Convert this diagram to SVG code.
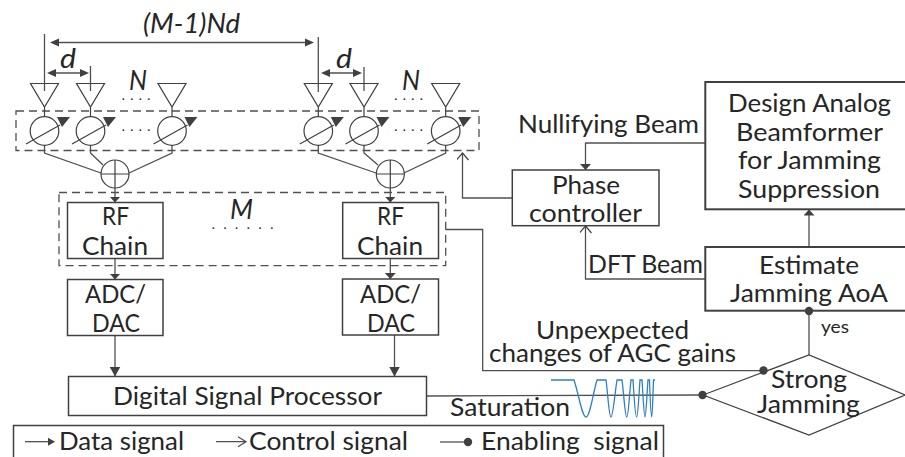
<svg xmlns="http://www.w3.org/2000/svg" width="905" height="457" viewBox="0 0 905 457">
<style>
.l{fill:none;stroke:#505050;stroke-width:1.3}
.b{fill:#fff;stroke:#404040;stroke-width:1.5}
.w{fill:#fff;stroke:#404040;stroke-width:2}
.n{fill:none;stroke:#404040;stroke-width:1.2}
.dash{fill:none;stroke:#505050;stroke-width:1.3;stroke-dasharray:8 5}
.fa{marker-end:url(#fa)}
.ff{marker-end:url(#ff)}
.oa{marker-end:url(#oa)}
text{font-family:Lato,"Liberation Sans",sans-serif;font-size:25px;fill:#262626}
.i{font-style:italic;font-size:27px}
.dots{font-size:11px;font-weight:900;fill:#303030}
</style>
<defs>
<marker id="fa" markerUnits="userSpaceOnUse" markerWidth="12" markerHeight="12" refX="10" refY="5.500" orient="auto"><path d="M0 0L10 5.500L0 11Z" fill="#404040"/></marker>
<marker id="ff" markerUnits="userSpaceOnUse" markerWidth="12" markerHeight="12" refX="6" refY="5.500" orient="auto"><path d="M0 0L6 5.500L0 11Z" fill="#404040"/></marker>
<marker id="oa" markerUnits="userSpaceOnUse" markerWidth="14" markerHeight="14" refX="8" refY="6" orient="auto"><path d="M1 0L8 6L1 12" fill="none" stroke="#404040" stroke-width="1.200"/></marker>
<g id="ant"><path class="n" d="M-13.500 83.500H14.500L0.500 107ZM0.500 107V116.500"/></g>
<g id="ps"><circle class="n" cx="0.500" cy="131" r="14.300"/><path class="n" d="M-18 144L16 125"/><path d="M13 117H26L18 127Z" fill="#404040"/></g>
<circle id="dot" r="4.200" fill="#404040"/>
</defs>

<g id="beam-box-1"><rect class="dash" x="16" y="111" width="463" height="39.500"/></g>
<g id="rf-group"><rect class="dash" x="59" y="192.500" width="386.700" height="73.200"/></g>

<g id="connectors">
<path class="l" d="M44.500 34V91M318.300 37V92M90.500 66V91M364 67V91"/>
<path class="l" d="M55 42.500H309"/>
<path d="M50 42.500L59 38.500V46.500ZM314 42.500L305 38.500V46.500Z" fill="#404040"/>
<path class="l" d="M50 73H86M324 73H359"/>
<path d="M47 73L56 69V77ZM89 73L80 69V77ZM321 73L330 69V77ZM362 73L353 69V77Z" fill="#404040"/>
<path class="l" d="M44.500 145.500V153L101 173M90.500 145.500V153L103 165M172 145.500V153L129 173"/>
<path class="l" d="M318.300 145.500V153L376 173M364 145.500V153L378 165M445.700 145.500V153L404 173"/>
<path class="l ff" d="M115 188V202.500"/>
<path class="l ff" d="M390.300 188V202.500"/>
<path class="l ff" d="M115 258.500V279.500"/>
<path class="l ff" d="M390.300 258.500V279"/>
<path class="l fa" d="M115 336V376.500"/>
<path class="l fa" d="M394.500 335V376.500"/>
<path class="l" d="M445.700 229.500H482.700V370.700H763.500"/>
<path class="l" d="M426.500 396L702 395"/>
<path class="l oa" d="M512.300 198H462.500V153"/>
<path class="l ff" d="M705 143H585.500V170"/>
<path class="l oa" d="M705 279H585.500V226"/>
<path class="l ff" d="M809 247V209.500"/>
<path class="l" d="M809 311V355"/>
<use href="#dot" x="763.500" y="370.500"/>
<use href="#dot" x="702.500" y="395"/>
</g>

<g id="top-label">
<text class="i" x="143" y="33" textLength="97" lengthAdjust="spacingAndGlyphs">(M-1)Nd</text>
<text class="i" x="60" y="68" textLength="16" lengthAdjust="spacingAndGlyphs">d</text>
<text class="i" x="336" y="68" textLength="16" lengthAdjust="spacingAndGlyphs">d</text>
<text class="i" x="129" y="90" textLength="18" lengthAdjust="spacingAndGlyphs">N</text>
<text class="i" x="402" y="90" textLength="18" lengthAdjust="spacingAndGlyphs">N</text>
<text class="dots" x="122" y="100" textLength="28">....</text>
<text class="dots" x="394.500" y="100" textLength="28">....</text>
<text class="dots" x="122" y="130.500" textLength="28">....</text>
<text class="dots" x="394.500" y="130.500" textLength="28">....</text>
<text class="i" x="230" y="219" textLength="23" lengthAdjust="spacingAndGlyphs">M</text>
<text class="dots" x="212" y="228.500" textLength="61">......</text>
</g>

<g id="antenna-1"><use href="#ant" x="44"/><use href="#ps" x="44"/></g>
<g id="antenna-2"><use href="#ant" x="90"/><use href="#ps" x="90"/></g>
<g id="antenna-3"><use href="#ant" x="171.500"/><use href="#ps" x="171.500"/></g>
<g id="antenna-4"><use href="#ant" x="317.800"/><use href="#ps" x="317.800"/></g>
<g id="antenna-5"><use href="#ant" x="363.500"/><use href="#ps" x="363.500"/></g>
<g id="antenna-6"><use href="#ant" x="445.200"/><use href="#ps" x="445.200"/></g>

<g id="summer-1"><circle class="n" cx="115" cy="174" r="14"/><path class="n" d="M101 174H129M115 160V188"/></g>
<g id="summer-2"><circle class="n" cx="390.300" cy="174" r="14"/><path class="n" d="M376.300 174H404.300M390.300 160V188"/></g>

<g id="rf-1"><rect class="b" x="67.500" y="202.500" width="95.500" height="56"/>
<text x="102" y="225" textLength="27" lengthAdjust="spacingAndGlyphs">RF</text>
<text x="82" y="254.500" textLength="66" lengthAdjust="spacingAndGlyphs">Chain</text></g>
<g id="rf-2"><rect class="b" x="342.700" y="202.500" width="95.800" height="56"/>
<text x="377" y="225" textLength="27" lengthAdjust="spacingAndGlyphs">RF</text>
<text x="357" y="254.500" textLength="66" lengthAdjust="spacingAndGlyphs">Chain</text></g>
<g id="adc-1"><rect class="b" x="67.500" y="279.500" width="95.500" height="56"/>
<text x="85" y="303" textLength="61" lengthAdjust="spacingAndGlyphs">ADC/</text>
<text x="92" y="332" textLength="48" lengthAdjust="spacingAndGlyphs">DAC</text></g>
<g id="adc-2"><rect class="b" x="342.500" y="279" width="96" height="56"/>
<text x="360" y="303" textLength="61" lengthAdjust="spacingAndGlyphs">ADC/</text>
<text x="367" y="332" textLength="48" lengthAdjust="spacingAndGlyphs">DAC</text></g>
<g id="dsp"><rect class="b" x="68.500" y="376.500" width="358" height="39"/>
<text x="113" y="405" textLength="269" lengthAdjust="spacingAndGlyphs">Digital Signal Processor</text></g>

<g id="phase-controller"><rect class="b" x="512.300" y="170" width="146.700" height="55.700"/>
<text x="552" y="194" textLength="68" lengthAdjust="spacingAndGlyphs">Phase</text>
<text x="529" y="222" textLength="113" lengthAdjust="spacingAndGlyphs">controller</text></g>
<g id="design"><rect class="w" x="705.300" y="82" width="204" height="127.300"/>
<text x="728" y="112" textLength="163" lengthAdjust="spacingAndGlyphs">Design Analog</text>
<text x="736" y="141" textLength="147" lengthAdjust="spacingAndGlyphs">Beamformer</text>
<text x="738" y="169" textLength="143" lengthAdjust="spacingAndGlyphs">for Jamming</text>
<text x="738" y="198" textLength="142" lengthAdjust="spacingAndGlyphs">Suppression</text></g>
<g id="estimate"><rect class="w" x="705.300" y="247" width="204" height="63.700"/>
<text x="759" y="274" textLength="100" lengthAdjust="spacingAndGlyphs">Estimate</text>
<text x="730" y="302" textLength="158" lengthAdjust="spacingAndGlyphs">Jamming AoA</text></g>
<use href="#dot" x="809" y="311"/>
<g id="strong-jamming"><path class="n" d="M703 395L809 355L905 395L809 435Z"/>
<text x="771" y="388" textLength="76" lengthAdjust="spacingAndGlyphs">Strong</text>
<text x="757" y="413" textLength="103" lengthAdjust="spacingAndGlyphs">Jamming</text></g>

<g id="labels">
<text x="518" y="133" textLength="181" lengthAdjust="spacingAndGlyphs">Nullifying Beam</text>
<text x="588" y="273" textLength="115" lengthAdjust="spacingAndGlyphs">DFT Beam</text>
<text x="536" y="339" textLength="153" lengthAdjust="spacingAndGlyphs">Unpexpected</text>
<text x="489" y="362" textLength="247" lengthAdjust="spacingAndGlyphs">changes of AGC gains</text>
<text x="450" y="416" textLength="120" lengthAdjust="spacingAndGlyphs">Saturation</text>
<text x="821" y="333" style="font-size:17px" textLength="28" lengthAdjust="spacingAndGlyphs">yes</text>
</g>

<g id="waveform"><path fill="none" stroke="#2e7fc4" stroke-width="1.300" d="M551 380H574C579 395 582 417 586 417C590 417 593 393 597 380H606C608 395 609 417 611 417C613 417 615 392 617 380H622C624 395 625 417 626.700 417C628.500 417 629.500 392 631 380H633C634 395 635 417 636.700 417C638 417 639 392 640 380H642C643 395 644 417 645 417C646 417 647 392 648 380H649.500C650 395 651 417 651.700 417C652.500 417 653 392 653.500 380H655"/></g>

<g id="legend">
<path fill="none" stroke="#404040" stroke-width="1.500" d="M13.500 457V425.500H663.500V457"/>
<path class="l" d="M25 441.700H50"/><path d="M48 437.700L55 441.700L48 445.700Z" fill="#404040"/>
<path class="l" d="M216 441.700H245M238 436.700L246 441.700L238 446.700"/>
<path class="l" d="M440 442H465"/><use href="#dot" x="468" y="442"/>
<text x="59" y="450" textLength="125" lengthAdjust="spacingAndGlyphs">Data signal</text>
<text x="249" y="450" textLength="159" lengthAdjust="spacingAndGlyphs">Control signal</text>
<text x="481" y="450" textLength="178" lengthAdjust="spacingAndGlyphs" xml:space="preserve">Enabling  signal</text>
</g>
</svg>
